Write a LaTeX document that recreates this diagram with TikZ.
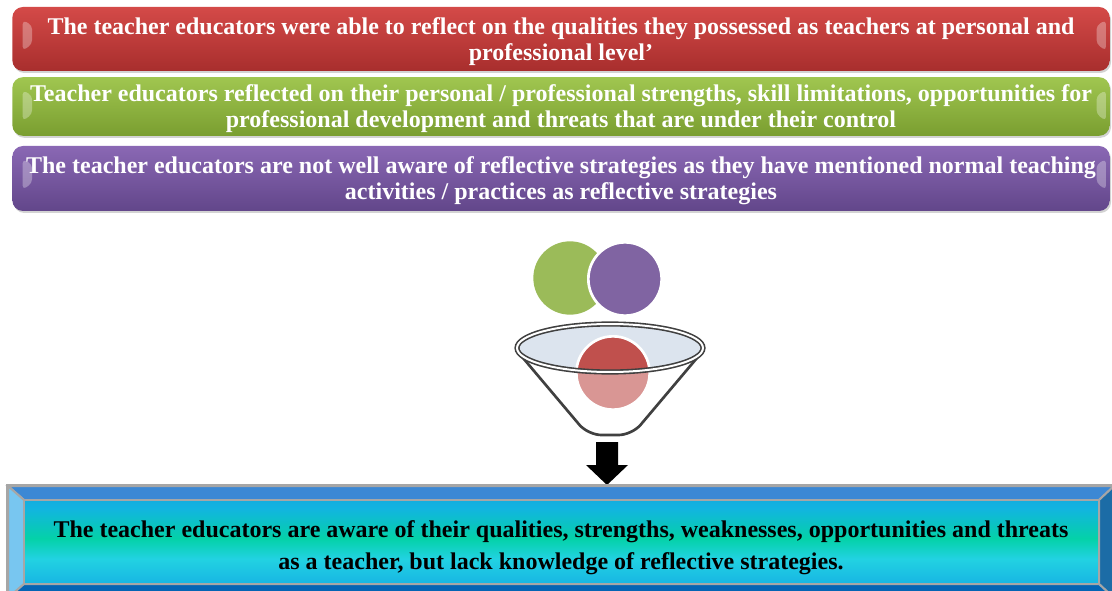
\documentclass[tikz,border=0pt]{standalone}
\usepackage{fontspec}
\setmainfont{Liberation Serif}
\usepackage{tikz}
\usetikzlibrary{shadows}
\definecolor{myredtop}{HTML}{D44A48}
\definecolor{myredbottom}{HTML}{A82E2D}
\definecolor{mygreentop}{HTML}{A0C650}
\definecolor{mygreenbottom}{HTML}{7A9E30}
\definecolor{mypurpletop}{HTML}{8A68B4}
\definecolor{mypurplebottom}{HTML}{62468A}
\definecolor{mygreenball}{HTML}{9BBB59}
\definecolor{mypurpleball}{HTML}{8064A2}
\definecolor{myredball}{HTML}{C0504D}
\definecolor{myrimcolor}{HTML}{DCE4EE}
\definecolor{myfunnelline}{HTML}{404040}
\definecolor{mybevelgray}{HTML}{A6A6A6}
\definecolor{mybeveltop}{HTML}{3C88D4}
\definecolor{mybevelleft}{HTML}{78C6F0}
\definecolor{mybevelright}{HTML}{1C6CA6}
\definecolor{mybevelbottom}{HTML}{0464B4}
\definecolor{myfacelow}{HTML}{0A78D0}
\definecolor{myfacesky}{HTML}{12A8E4}
\definecolor{myfacecyan}{HTML}{22D2E2}
\definecolor{myfacegreen}{HTML}{04D2A8}
\definecolor{myfaceupper}{HTML}{12B4E0}
\definecolor{myfacetop}{HTML}{1A8CDA}
\pgfdeclareverticalshading{myfaceshade}{100bp}{color(0bp)=(myfacelow); color(18bp)=(myfacesky); color(40bp)=(myfacecyan); color(52bp)=(myfacegreen); color(70bp)=(myfaceupper); color(100bp)=(myfacetop)}
\tikzset{
  findingbox/.style={rectangle, rounded corners=8pt, minimum width=823pt, inner sep=0pt, text depth=0pt, align=center, text=white, font=\fontsize{18.0pt}{19.5pt}\selectfont\bfseries, drop shadow={opacity=0.35, shadow xshift=1pt, shadow yshift=-1.5pt}},
  glint/.style={white, opacity=0.3, rounded corners=3pt},
  ball/.style={circle, minimum size=55pt, inner sep=0pt},
  bevelside/.style={draw=mybevelgray, line width=1.5pt},
}

\begin{document}
\begin{tikzpicture}[x=0.75pt, y=-0.75pt]%
\useasboundingbox (0,0) rectangle (1112,591);%
\node[findingbox, top color=myredtop, bottom color=myredbottom, minimum height=48pt] (qualities) at (561, 39) {The teacher educators were able to reflect on the qualities they possessed as teachers at personal and\\ professional level’};%
\node[findingbox, top color=mygreentop, bottom color=mygreenbottom, minimum height=44pt] (swot) at (561, 106.5) {Teacher educators reflected on their personal / professional strengths, skill limitations, opportunities for\\ professional development and threats that are under their control};%
\node[findingbox, top color=mypurpletop, bottom color=mypurplebottom, minimum height=48.75pt] (strategies) at (561, 178.5) {The teacher educators are not well aware of reflective strategies as they have mentioned normal teaching\\ activities / practices as reflective strategies};%
\foreach \b in {qualities, swot, strategies} {%
  \fill[glint] ([xshift=8pt, yshift=-10pt]\b.north west) -- ++(7pt, -4pt) -- ++(0, -14pt) -- ++(-7pt, -5pt) -- cycle;%
  \fill[glint] ([xshift=-3pt, yshift=-10pt]\b.north east) -- ++(-7pt, -4pt) -- ++(0, -14pt) -- ++(7pt, -5pt) -- cycle;%
}%
\node[ball, fill=mygreenball] (greenball) at (570, 278) {};%
\node[ball, fill=mypurpleball, draw=white, line width=2pt] (purpleball) at (625, 279) {};%
\fill[myrimcolor] (610, 348) ellipse (93 and 24);%
\node[ball, fill=myredball, draw=white, line width=2pt] (redball) at (613, 373) {};%
\fill[white, opacity=0.4, rounded corners=10] (517, 348) -- (588, 435) -- (632, 435) -- (703, 348) [sharp corners] arc[start angle=0, end angle=180, x radius=93, y radius=24] -- cycle;%
\draw[myfunnelline, line width=2pt, rounded corners=10] (518, 352) -- (588, 435) -- (632, 435) -- (702, 352);%
\draw[myfunnelline, line width=1.2pt, double=white, double distance=1.5pt] (610, 348) ellipse (93 and 24);%
\fill[black] (596, 442) -- (618, 442) -- (618, 465) -- (628, 465) -- (607, 485) -- (586, 465) -- (596, 465) -- cycle;%
\fill[mybevelgray] (6, 484) rectangle (1125, 600);%
\fill[mybeveltop, bevelside] (8, 486) -- (1114, 486) -- (1099, 500) -- (24, 500) -- cycle;%
\fill[mybevelleft, bevelside] (8, 486) -- (24, 500) -- (24, 584) -- (8, 598) -- cycle;%
\fill[mybevelright, bevelside] (1114, 486) -- (1099, 500) -- (1099, 584) -- (1114, 598) -- cycle;%
\fill[mybevelbottom, bevelside] (24, 584) -- (1099, 584) -- (1114, 598) -- (8, 598) -- cycle;%
\shade[shading=myfaceshade, bevelside] (24, 500) rectangle (1099, 584);%
\node[align=center, inner sep=0pt, font=\fontsize{18.0pt}{24.0pt}\selectfont\bfseries] (result) at (561, 548) {The teacher educators are aware of their qualities, strengths, weaknesses, opportunities and threats\\ as a teacher, but lack knowledge of reflective strategies.};%
\end{tikzpicture}
\end{document}
